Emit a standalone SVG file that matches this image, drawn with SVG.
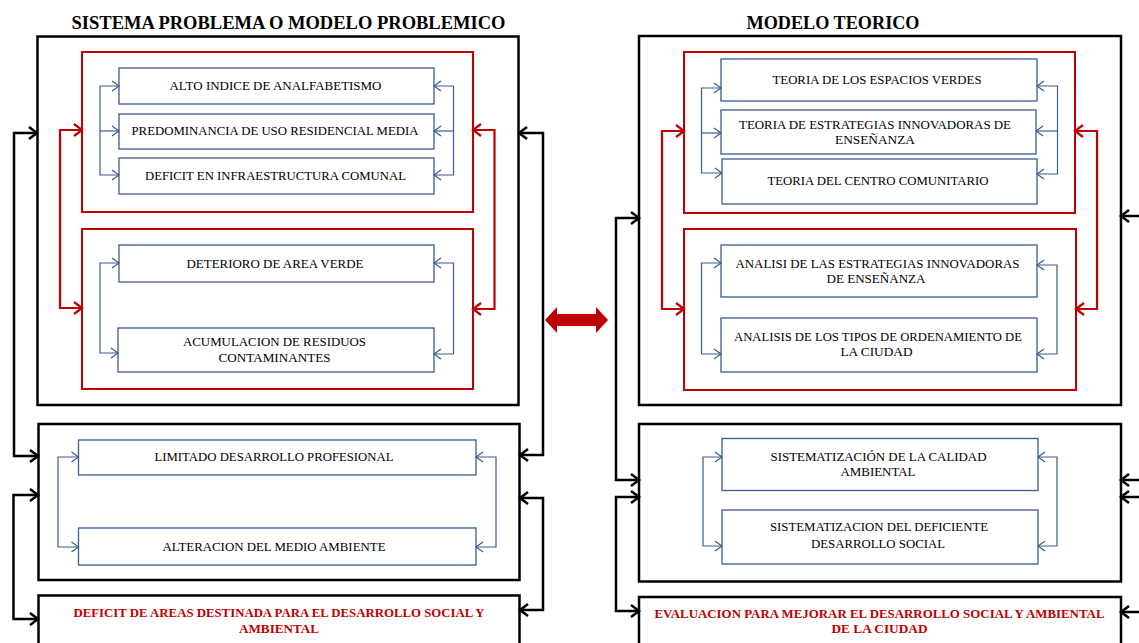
<svg xmlns="http://www.w3.org/2000/svg" width="1139" height="643" viewBox="0 0 1139 643">
<defs>
<style>
.title{font-family:"Liberation Serif","Times New Roman",serif;font-weight:bold;font-size:19px;fill:#000;text-anchor:middle}
.t{font-family:"Liberation Serif","Times New Roman",serif;font-size:13px;fill:#000;text-anchor:middle}
.rt{font-family:"Liberation Serif","Times New Roman",serif;font-size:12.5px;font-weight:bold;fill:#C00000;text-anchor:middle}
.outer{fill:#fff;stroke:#000;stroke-width:2.5}
.red{fill:none;stroke:#C00000;stroke-width:2}
.blue{fill:#fff;stroke:#3B5B92;stroke-width:1.3}
.cb{fill:none;stroke:#3B5B92;stroke-width:1.2}
.cr{fill:none;stroke:#C00000;stroke-width:2.2}
.ck{fill:none;stroke:#000;stroke-width:2.5}
</style>
<marker id="mb" markerUnits="userSpaceOnUse" markerWidth="12" markerHeight="12" refX="8" refY="5" orient="auto-start-reverse" overflow="visible">
<path d="M1,0 L8,5 L1,10" fill="none" stroke="#3B5B92" stroke-width="1.2"/>
</marker>
<marker id="mr" markerUnits="userSpaceOnUse" markerWidth="14" markerHeight="14" refX="9" refY="6" orient="auto-start-reverse" overflow="visible">
<path d="M1,0 L9,6 L1,12" fill="none" stroke="#C00000" stroke-width="2.2"/>
</marker>
<marker id="mk" markerUnits="userSpaceOnUse" markerWidth="14" markerHeight="14" refX="9" refY="6" orient="auto-start-reverse" overflow="visible">
<path d="M1,0 L9,6 L1,12" fill="none" stroke="#000" stroke-width="2.5"/>
</marker>
</defs>
<rect width="1139" height="643" fill="#fff"/>

<text class="title" x="288.5" y="29" textLength="434" lengthAdjust="spacingAndGlyphs">SISTEMA PROBLEMA O MODELO PROBLEMICO</text>
<text class="title" x="833" y="29" textLength="173" lengthAdjust="spacingAndGlyphs">MODELO TEORICO</text>

<!-- LEFT PANEL -->
<g id="problema-principal"><rect class="outer" x="37.5" y="36.5" width="481" height="368.5"/></g>
<g id="grupo-rojo-1"><rect class="red" x="82" y="52" width="391" height="160"/></g>
<g id="grupo-rojo-2"><rect class="red" x="82" y="229" width="391" height="160"/></g>
<g id="alto-indice"><rect class="blue" x="119" y="68" width="315" height="36"/>
<text class="t" x="275.5" y="89.5" textLength="212" lengthAdjust="spacingAndGlyphs">ALTO INDICE DE ANALFABETISMO</text></g>
<g id="predominancia"><rect class="blue" x="119" y="114" width="315" height="35"/>
<text class="t" x="275" y="134.5" textLength="287" lengthAdjust="spacingAndGlyphs">PREDOMINANCIA DE USO RESIDENCIAL MEDIA</text></g>
<g id="deficit-infra"><rect class="blue" x="119" y="158" width="315" height="36"/>
<text class="t" x="275.5" y="179.5" textLength="261" lengthAdjust="spacingAndGlyphs">DEFICIT EN INFRAESTRUCTURA COMUNAL</text></g>
<g id="deterioro"><rect class="blue" x="119" y="245" width="315" height="37"/>
<text class="t" x="275" y="267.5" textLength="177" lengthAdjust="spacingAndGlyphs">DETERIORO DE AREA VERDE</text></g>
<g id="acumulacion"><rect class="blue" x="118" y="328" width="316" height="44"/>
<text class="t" x="274.5" y="346" textLength="183" lengthAdjust="spacingAndGlyphs">ACUMULACION DE RESIDUOS</text>
<text class="t" x="274.5" y="361.5" textLength="112" lengthAdjust="spacingAndGlyphs">CONTAMINANTES</text></g>

<g id="problema-secundario"><rect class="outer" x="38.5" y="424" width="481" height="156"/></g>
<g id="limitado"><rect class="blue" x="78.5" y="440" width="397.5" height="35"/>
<text class="t" x="274" y="461" textLength="239" lengthAdjust="spacingAndGlyphs">LIMITADO DESARROLLO PROFESIONAL</text></g>
<g id="alteracion"><rect class="blue" x="78.5" y="528" width="397.5" height="37"/>
<text class="t" x="274" y="551" textLength="223" lengthAdjust="spacingAndGlyphs">ALTERACION DEL MEDIO AMBIENTE</text></g>

<g id="problema-resultado"><rect class="outer" x="38.5" y="595.5" width="481" height="60"/>
<text class="rt" x="279" y="617" textLength="411" lengthAdjust="spacingAndGlyphs">DEFICIT DE AREAS DESTINADA PARA EL DESARROLLO SOCIAL Y</text>
<text class="rt" x="279" y="633" textLength="80" lengthAdjust="spacingAndGlyphs">AMBIENTAL</text></g>

<!-- RIGHT PANEL -->
<g id="teorico-principal"><rect class="outer" x="639" y="36" width="482" height="369"/></g>
<g id="grupo-rojo-3"><rect class="red" x="684" y="52" width="391" height="161"/></g>
<g id="grupo-rojo-4"><rect class="red" x="684" y="229" width="392" height="161"/></g>
<g id="teoria-espacios"><rect class="blue" x="721" y="59" width="316" height="42"/>
<text class="t" x="877" y="83.5" textLength="209" lengthAdjust="spacingAndGlyphs">TEORIA DE LOS ESPACIOS VERDES</text></g>
<g id="teoria-estrategias"><rect class="blue" x="721" y="110" width="315" height="44"/>
<text class="t" x="875" y="128.5" textLength="272" lengthAdjust="spacingAndGlyphs">TEORIA DE ESTRATEGIAS INNOVADORAS DE</text>
<text class="t" x="875" y="143.5" textLength="80" lengthAdjust="spacingAndGlyphs">ENSEÑANZA</text></g>
<g id="teoria-centro"><rect class="blue" x="722" y="159" width="315" height="45"/>
<text class="t" x="878" y="185" textLength="221" lengthAdjust="spacingAndGlyphs">TEORIA DEL CENTRO COMUNITARIO</text></g>
<g id="analisis-estrategias"><rect class="blue" x="721" y="245" width="316" height="52"/>
<text class="t" x="877.5" y="267.5" textLength="284" lengthAdjust="spacingAndGlyphs">ANALISI DE LAS ESTRATEGIAS INNOVADORAS</text>
<text class="t" x="876" y="283" textLength="99" lengthAdjust="spacingAndGlyphs">DE ENSEÑANZA</text></g>
<g id="analisis-ordenamiento"><rect class="blue" x="721" y="318" width="316" height="54"/>
<text class="t" x="878" y="341" textLength="288" lengthAdjust="spacingAndGlyphs">ANALISIS DE LOS TIPOS DE ORDENAMIENTO DE</text>
<text class="t" x="876.5" y="356" textLength="72" lengthAdjust="spacingAndGlyphs">LA CIUDAD</text></g>

<g id="teorico-secundario"><rect class="outer" x="639" y="424" width="482" height="157.5"/></g>
<g id="sistematizacion-calidad"><rect class="blue" x="722" y="438.5" width="316" height="52"/>
<text class="t" x="878.5" y="461" textLength="216" lengthAdjust="spacingAndGlyphs">SISTEMATIZACIÓN DE LA CALIDAD</text>
<text class="t" x="878" y="475.5" textLength="75" lengthAdjust="spacingAndGlyphs">AMBIENTAL</text></g>
<g id="sistematizacion-deficiente"><rect class="blue" x="722" y="510" width="316" height="54"/>
<text class="t" x="879" y="531" textLength="218" lengthAdjust="spacingAndGlyphs">SISTEMATIZACION DEL DEFICIENTE</text>
<text class="t" x="878" y="547.5" textLength="134" lengthAdjust="spacingAndGlyphs">DESARROLLO SOCIAL</text></g>

<g id="teorico-resultado"><rect class="outer" x="639" y="597" width="482" height="60"/>
<text class="rt" x="879.5" y="617.5" textLength="450" lengthAdjust="spacingAndGlyphs">EVALUACION PARA MEJORAR EL DESARROLLO SOCIAL Y AMBIENTAL</text>
<text class="rt" x="879.5" y="633" textLength="96" lengthAdjust="spacingAndGlyphs">DE LA CIUDAD</text></g>

<!-- CONNECTORS -->
<g id="connectors">
<!-- left panel blue -->
<path class="cb" d="M119,86 H100 V175 H119" marker-start="url(#mb)" marker-end="url(#mb)"/>
<path class="cb" d="M100,131 H119" marker-end="url(#mb)"/>
<path class="cb" d="M434,86 H453.5 V175 H434" marker-start="url(#mb)" marker-end="url(#mb)"/>
<path class="cb" d="M453.5,131 H434" marker-end="url(#mb)"/>
<path class="cb" d="M119,263 H100 V353 H118" marker-start="url(#mb)" marker-end="url(#mb)"/>
<path class="cb" d="M434,263 H453.5 V354 H434" marker-start="url(#mb)" marker-end="url(#mb)"/>
<path class="cb" d="M78.5,457 H58 V547 H78.5" marker-start="url(#mb)" marker-end="url(#mb)"/>
<path class="cb" d="M476,457 H496 V547 H476" marker-start="url(#mb)" marker-end="url(#mb)"/>
<!-- left panel red -->
<path class="cr" d="M82,130 H60 V308 H82" marker-start="url(#mr)" marker-end="url(#mr)"/>
<path class="cr" d="M473,130 H494.5 V309 H473" marker-start="url(#mr)" marker-end="url(#mr)"/>
<!-- left panel black -->
<path class="ck" d="M37,133 H14 V456 H38" marker-start="url(#mk)" marker-end="url(#mk)"/>
<path class="ck" d="M38,495 H13.5 V619 H38" marker-start="url(#mk)" marker-end="url(#mk)"/>
<path class="ck" d="M519,133 H543 V455 H520" marker-start="url(#mk)" marker-end="url(#mk)"/>
<path class="ck" d="M520,498 H543 V610 H520" marker-start="url(#mk)" marker-end="url(#mk)"/>
<!-- center double arrow -->
<polygon points="545,320 557,307 557,314 596,314 596,307 608,320 596,333 596,326 557,326 557,333" fill="#C00000"/>
<!-- right panel blue -->
<path class="cb" d="M721,88 H701.5 V173 H722" marker-start="url(#mb)" marker-end="url(#mb)"/>
<path class="cb" d="M701.5,133 H721" marker-end="url(#mb)"/>
<path class="cb" d="M1037,86 H1057.5 V174 H1037" marker-start="url(#mb)" marker-end="url(#mb)"/>
<path class="cb" d="M1057.5,131 H1036" marker-end="url(#mb)"/>
<path class="cb" d="M721,263 H701.5 V354 H721" marker-start="url(#mb)" marker-end="url(#mb)"/>
<path class="cb" d="M1037,265 H1057 V354 H1037" marker-start="url(#mb)" marker-end="url(#mb)"/>
<path class="cb" d="M722,457 H703 V546 H722" marker-start="url(#mb)" marker-end="url(#mb)"/>
<path class="cb" d="M1038,457 H1057 V546 H1038" marker-start="url(#mb)" marker-end="url(#mb)"/>
<!-- right panel red -->
<path class="cr" d="M684,131 H662 V309 H684" marker-start="url(#mr)" marker-end="url(#mr)"/>
<path class="cr" d="M1075,131 H1097 V309 H1076" marker-start="url(#mr)" marker-end="url(#mr)"/>
<!-- right panel black -->
<path class="ck" d="M639,218 H616 V480 H639" marker-start="url(#mk)" marker-end="url(#mk)"/>
<path class="ck" d="M639,497 H616 V611 H639" marker-start="url(#mk)" marker-end="url(#mk)"/>
<path class="ck" d="M1150,216 H1121" marker-end="url(#mk)"/>
<path class="ck" d="M1150,480 H1121" marker-end="url(#mk)"/>
<path class="ck" d="M1150,497 H1121" marker-end="url(#mk)"/>
<path class="ck" d="M1150,612 H1121" marker-end="url(#mk)"/>
</g>
</svg>
